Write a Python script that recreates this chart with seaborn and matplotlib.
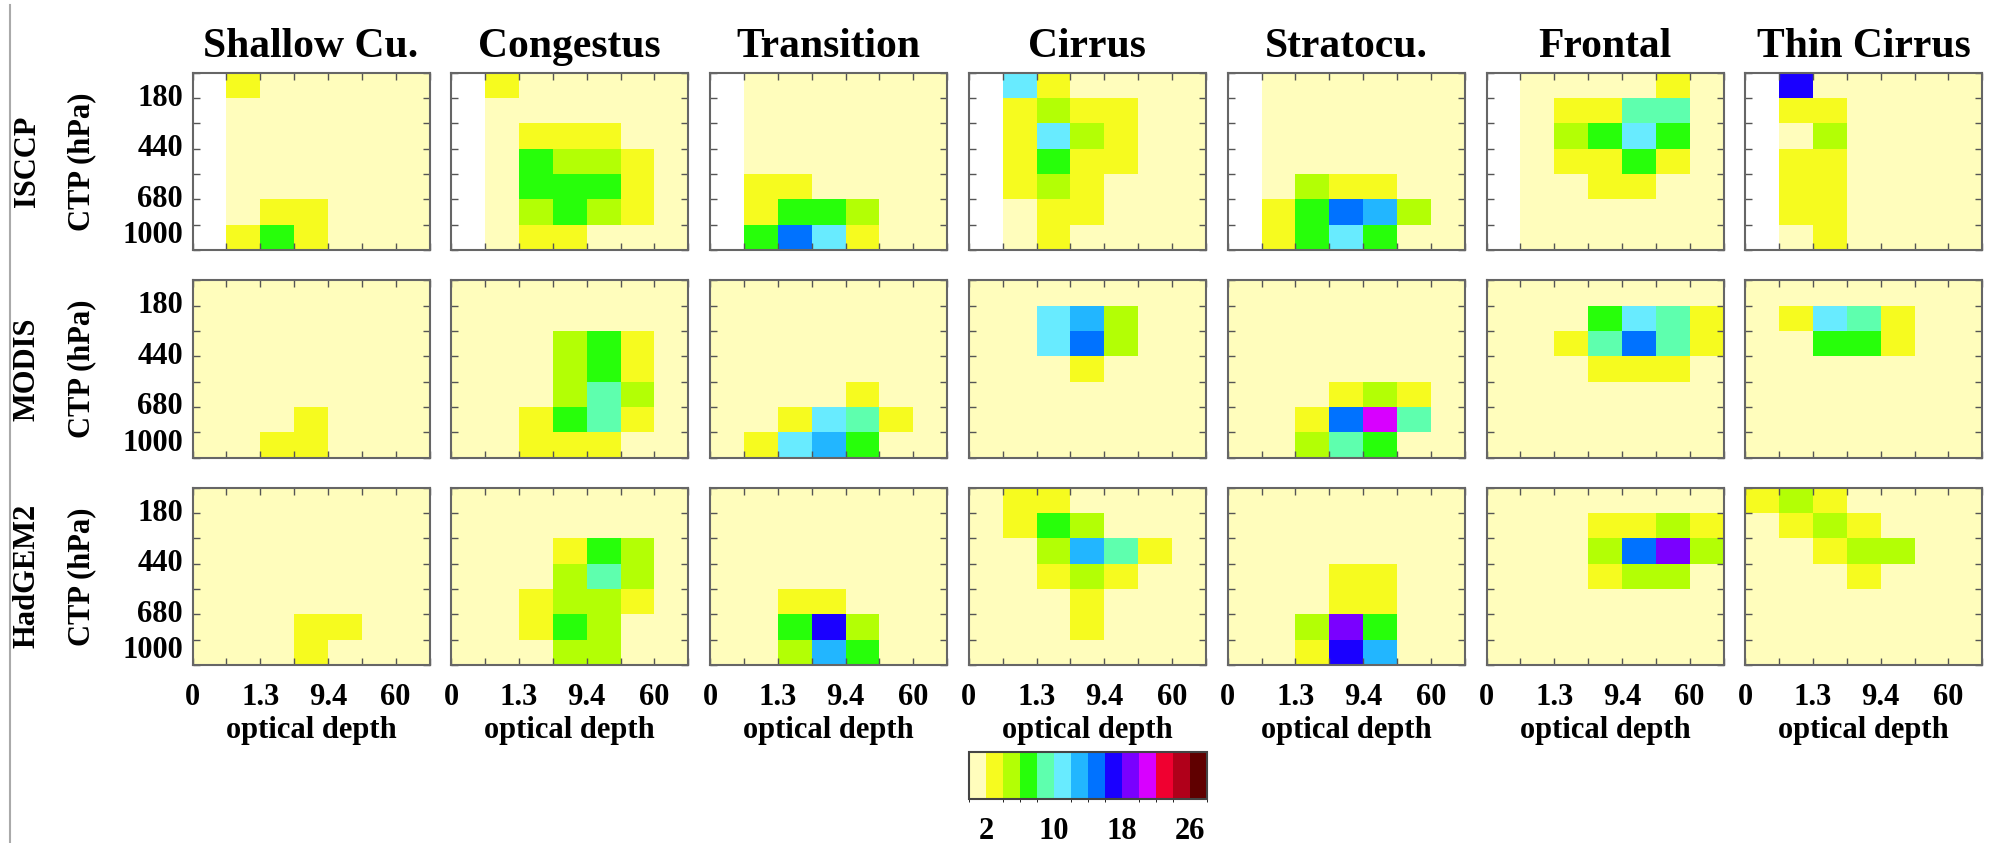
import numpy as np
import matplotlib
matplotlib.use("Agg")
import matplotlib.pyplot as plt
import seaborn as sns
from matplotlib.colors import ListedColormap, BoundaryNorm
from matplotlib.cm import ScalarMappable
from matplotlib.lines import Line2D

N = np.nan

# ---------------- data (cloud fraction %, rows: CTP top->bottom, cols: tau bins) ----
cloud_types = ["Shallow Cu.", "Congestus", "Transition", "Cirrus",
               "Stratocu.", "Frontal", "Thin Cirrus"]
datasets = ["ISCCP", "MODIS", "HadGEM2"]
tau_labels = ["0", "", "1.3", "", "9.4", "", "60", ""]
ctp_labels = ["", "180", "", "440", "", "680", "", "1000"]
bounds = list(range(0, 30, 2))
cbar_ticks = [2, 10, 18, 26]

isccp_shallow = [[N, 3, 1, 1, 1, 1, 1], [N, 1, 1, 1, 1, 1, 1], [N, 1, 1, 1, 1, 1, 1],
                 [N, 1, 1, 1, 1, 1, 1], [N, 1, 1, 1, 1, 1, 1], [N, 1, 3, 3, 1, 1, 1],
                 [N, 3, 7, 3, 1, 1, 1]]
isccp_congestus = [[N, 3, 1, 1, 1, 1, 1], [N, 1, 1, 1, 1, 1, 1], [N, 1, 3, 3, 3, 1, 1],
                   [N, 1, 7, 5, 5, 3, 1], [N, 1, 7, 7, 7, 3, 1], [N, 1, 5, 7, 5, 3, 1],
                   [N, 1, 3, 3, 1, 1, 1]]
isccp_transition = [[N, 1, 1, 1, 1, 1, 1], [N, 1, 1, 1, 1, 1, 1], [N, 1, 1, 1, 1, 1, 1],
                    [N, 1, 1, 1, 1, 1, 1], [N, 3, 3, 1, 1, 1, 1], [N, 3, 7, 7, 5, 1, 1],
                    [N, 7, 15, 11, 3, 1, 1]]
isccp_cirrus = [[N, 11, 3, 1, 1, 1, 1], [N, 3, 5, 3, 3, 1, 1], [N, 3, 11, 5, 3, 1, 1],
                [N, 3, 7, 3, 3, 1, 1], [N, 3, 5, 3, 1, 1, 1], [N, 1, 3, 3, 1, 1, 1],
                [N, 1, 3, 1, 1, 1, 1]]
isccp_stratocu = [[N, 1, 1, 1, 1, 1, 1], [N, 1, 1, 1, 1, 1, 1], [N, 1, 1, 1, 1, 1, 1],
                  [N, 1, 1, 1, 1, 1, 1], [N, 1, 5, 3, 3, 1, 1], [N, 3, 7, 15, 13, 5, 1],
                  [N, 3, 7, 11, 7, 1, 1]]
isccp_frontal = [[N, 1, 1, 1, 1, 3, 1], [N, 1, 3, 3, 9, 9, 1], [N, 1, 5, 7, 11, 7, 1],
                 [N, 1, 3, 3, 7, 3, 1], [N, 1, 1, 3, 3, 1, 1], [N, 1, 1, 1, 1, 1, 1],
                 [N, 1, 1, 1, 1, 1, 1]]
isccp_thin = [[N, 17, 1, 1, 1, 1, 1], [N, 3, 3, 1, 1, 1, 1], [N, 1, 5, 1, 1, 1, 1],
              [N, 3, 3, 1, 1, 1, 1], [N, 3, 3, 1, 1, 1, 1], [N, 3, 3, 1, 1, 1, 1],
              [N, 1, 3, 1, 1, 1, 1]]

modis_shallow = [[1, 1, 1, 1, 1, 1, 1], [1, 1, 1, 1, 1, 1, 1], [1, 1, 1, 1, 1, 1, 1],
                 [1, 1, 1, 1, 1, 1, 1], [1, 1, 1, 1, 1, 1, 1], [1, 1, 1, 3, 1, 1, 1],
                 [1, 1, 3, 3, 1, 1, 1]]
modis_congestus = [[1, 1, 1, 1, 1, 1, 1], [1, 1, 1, 1, 1, 1, 1], [1, 1, 1, 5, 7, 3, 1],
                   [1, 1, 1, 5, 7, 3, 1], [1, 1, 1, 5, 9, 5, 1], [1, 1, 3, 7, 9, 3, 1],
                   [1, 1, 3, 3, 3, 1, 1]]
modis_transition = [[1, 1, 1, 1, 1, 1, 1], [1, 1, 1, 1, 1, 1, 1], [1, 1, 1, 1, 1, 1, 1],
                    [1, 1, 1, 1, 1, 1, 1], [1, 1, 1, 1, 3, 1, 1], [1, 1, 3, 11, 9, 3, 1],
                    [1, 3, 11, 13, 7, 1, 1]]
modis_cirrus = [[1, 1, 1, 1, 1, 1, 1], [1, 1, 11, 13, 5, 1, 1], [1, 1, 11, 15, 5, 1, 1],
                [1, 1, 1, 3, 1, 1, 1], [1, 1, 1, 1, 1, 1, 1], [1, 1, 1, 1, 1, 1, 1],
                [1, 1, 1, 1, 1, 1, 1]]
modis_stratocu = [[1, 1, 1, 1, 1, 1, 1], [1, 1, 1, 1, 1, 1, 1], [1, 1, 1, 1, 1, 1, 1],
                  [1, 1, 1, 1, 1, 1, 1], [1, 1, 1, 3, 5, 3, 1], [1, 1, 3, 15, 21, 9, 1],
                  [1, 1, 5, 9, 7, 1, 1]]
modis_frontal = [[1, 1, 1, 1, 1, 1, 1], [1, 1, 1, 7, 11, 9, 3], [1, 1, 3, 9, 15, 9, 3],
                 [1, 1, 1, 3, 3, 3, 1], [1, 1, 1, 1, 1, 1, 1], [1, 1, 1, 1, 1, 1, 1],
                 [1, 1, 1, 1, 1, 1, 1]]
modis_thin = [[1, 1, 1, 1, 1, 1, 1], [1, 3, 11, 9, 3, 1, 1], [1, 1, 7, 7, 3, 1, 1],
              [1, 1, 1, 1, 1, 1, 1], [1, 1, 1, 1, 1, 1, 1], [1, 1, 1, 1, 1, 1, 1],
              [1, 1, 1, 1, 1, 1, 1]]

hadgem_shallow = [[1, 1, 1, 1, 1, 1, 1], [1, 1, 1, 1, 1, 1, 1], [1, 1, 1, 1, 1, 1, 1],
                  [1, 1, 1, 1, 1, 1, 1], [1, 1, 1, 1, 1, 1, 1], [1, 1, 1, 3, 3, 1, 1],
                  [1, 1, 1, 3, 1, 1, 1]]
hadgem_congestus = [[1, 1, 1, 1, 1, 1, 1], [1, 1, 1, 1, 1, 1, 1], [1, 1, 1, 3, 7, 5, 1],
                    [1, 1, 1, 5, 9, 5, 1], [1, 1, 3, 5, 5, 3, 1], [1, 1, 3, 7, 5, 1, 1],
                    [1, 1, 1, 5, 5, 1, 1]]
hadgem_transition = [[1, 1, 1, 1, 1, 1, 1], [1, 1, 1, 1, 1, 1, 1], [1, 1, 1, 1, 1, 1, 1],
                     [1, 1, 1, 1, 1, 1, 1], [1, 1, 3, 3, 1, 1, 1], [1, 1, 7, 17, 5, 1, 1],
                     [1, 1, 5, 13, 7, 1, 1]]
hadgem_cirrus = [[1, 3, 3, 1, 1, 1, 1], [1, 3, 7, 5, 1, 1, 1], [1, 1, 5, 13, 9, 3, 1],
                 [1, 1, 3, 5, 3, 1, 1], [1, 1, 1, 3, 1, 1, 1], [1, 1, 1, 3, 1, 1, 1],
                 [1, 1, 1, 1, 1, 1, 1]]
hadgem_stratocu = [[1, 1, 1, 1, 1, 1, 1], [1, 1, 1, 1, 1, 1, 1], [1, 1, 1, 1, 1, 1, 1],
                   [1, 1, 1, 3, 3, 1, 1], [1, 1, 1, 3, 3, 1, 1], [1, 1, 5, 19, 7, 1, 1],
                   [1, 1, 3, 17, 13, 1, 1]]
hadgem_frontal = [[1, 1, 1, 1, 1, 1, 1], [1, 1, 1, 3, 3, 5, 3], [1, 1, 1, 5, 15, 19, 5],
                  [1, 1, 1, 3, 5, 5, 1], [1, 1, 1, 1, 1, 1, 1], [1, 1, 1, 1, 1, 1, 1],
                  [1, 1, 1, 1, 1, 1, 1]]
hadgem_thin = [[3, 5, 3, 1, 1, 1, 1], [1, 3, 5, 3, 1, 1, 1], [1, 1, 3, 5, 5, 1, 1],
               [1, 1, 1, 3, 1, 1, 1], [1, 1, 1, 1, 1, 1, 1], [1, 1, 1, 1, 1, 1, 1],
               [1, 1, 1, 1, 1, 1, 1]]

colors = ["#FFFDBC", "#F6FB1F", "#B3FF05", "#27FF0A", "#5EFFAE", "#68EBFF",
          "#22B6FF", "#0072FF", "#1A00FF", "#7A00FF", "#D800FF", "#F00030",
          "#B0001A", "#600000"]

all_grids = [
    [isccp_shallow, isccp_congestus, isccp_transition, isccp_cirrus,
     isccp_stratocu, isccp_frontal, isccp_thin],
    [modis_shallow, modis_congestus, modis_transition, modis_cirrus,
     modis_stratocu, modis_frontal, modis_thin],
    [hadgem_shallow, hadgem_congestus, hadgem_transition, hadgem_cirrus,
     hadgem_stratocu, hadgem_frontal, hadgem_thin],
]

# ---------------- figure ----------------
plt.rcParams["font.family"] = ["Liberation Serif", "DejaVu Serif"]
plt.rcParams["font.weight"] = "bold"

W, H = 1991, 843
fig = plt.figure(figsize=(W / 100, H / 100), dpi=100)

lefts = [192.5 + 258.8 * i for i in range(7)]
tops = [72.7, 280.2, 487.7]
pw, ph = 237.0, 177.4

cmap = ListedColormap(colors)
norm = BoundaryNorm(bounds, cmap.N)
FS = 22

for r, grids in enumerate(all_grids):
    for c, grid in enumerate(grids):
        ax = fig.add_axes([lefts[c] / W, 1 - (tops[r] + ph) / H, pw / W, ph / H])
        sns.heatmap(np.array(grid, dtype=float), ax=ax, cmap=cmap, norm=norm,
                    cbar=False, linewidths=0)
        ax.set_xticks(range(8))
        ax.set_yticks(range(8))
        ax.set_xticklabels(tau_labels, rotation=0, fontsize=FS, fontweight="bold")
        ax.set_yticklabels(ctp_labels, rotation=0, va="center", fontsize=FS,
                           fontweight="bold")
        ax.get_yticklabels()[7].set_va("bottom")
        ax.tick_params(axis="both", which="major", direction="in", length=5,
                       width=1, color="#555555", top=True, right=True,
                       left=True, bottom=True, labelleft=(c == 0),
                       labelbottom=(r == 2))
        ax.tick_params(axis="x", pad=13)
        ax.tick_params(axis="y", pad=7)
        for sp in ax.spines.values():
            sp.set_visible(True)
            sp.set_color("#666666")
            sp.set_linewidth(1.5)
        ax.set_xlabel("")
        ax.set_ylabel("")
        if r == 0:
            ax.set_title(cloud_types[c], fontsize=30, fontweight="bold", pad=11)
        if r == 2:
            ax.set_xlabel("optical depth", fontsize=FS, fontweight="bold",
                          labelpad=3)
    yc = 1 - (tops[r] + ph / 2) / H
    fig.text(27 / W, yc, datasets[r], rotation=90, ha="center", va="center",
             fontsize=FS, fontweight="bold")
    fig.text(82 / W, yc, "CTP (hPa)", rotation=90, ha="center", va="center",
             fontsize=FS, fontweight="bold")

# colorbar
cax = fig.add_axes([969 / W, 1 - 799 / H, 238 / W, 47 / H])
cb = fig.colorbar(ScalarMappable(norm=norm, cmap=cmap), cax=cax,
                  orientation="horizontal", ticks=cbar_ticks)
cb.ax.tick_params(length=0, labelsize=FS, pad=13)
for t in cb.ax.get_xticklabels():
    t.set_fontweight("bold")
cb.outline.set_edgecolor("#444444")
cb.outline.set_linewidth(1.5)

# left border line
fig.add_artist(Line2D([10 / W, 10 / W], [0, 1 - 5 / H], transform=fig.transFigure,
                      color="#aaaaaa", lw=1.5))

fig.savefig("out.png", dpi=100)
